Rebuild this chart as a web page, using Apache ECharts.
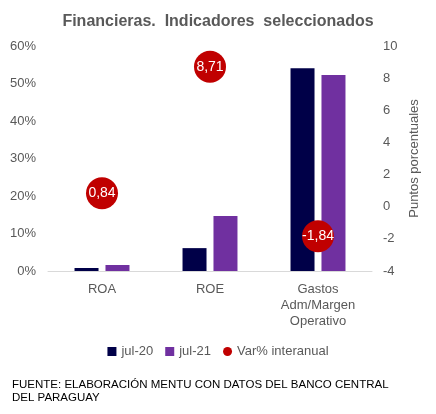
<!DOCTYPE html>
<html><head><meta charset="utf-8">
<script src="https://cdn.jsdelivr.net/npm/echarts@6/dist/echarts.min.js"></script>
<style>html,body{margin:0;padding:0;background:#fff}#c{width:436px;height:414px}</style>
</head><body><div id="c"></div>
<script>
var categories = ['ROA', 'ROE', 'Gastos\nAdm/Margen\nOperativo'];
var jul20 = [0.8, 6.1, 54.1];
var jul21 = [1.6, 14.7, 52.3];
var varInteranual = [0.84, 8.71, -1.84];
var leftTicks = {min: 0, max: 60, interval: 10};
var rightTicks = {min: -4, max: 10, interval: 2};

var chart = echarts.init(document.getElementById('c'));
var txt = '#595959';
var ff = 'Liberation Sans, Arial, sans-serif';
chart.setOption({
  animation: false,
  textStyle: {fontFamily: ff},
  title: {
    text: 'Financieras.  Indicadores  seleccionados',
    left: 'center', top: 9,
    textStyle: {fontSize: 16, fontWeight: 'bold', color: txt, fontFamily: ff}
  },
  grid: {left: 48, right: 64, top: 46, bottom: 143},
  legend: {
    top: 340, left: 'center', itemWidth: 9, itemHeight: 9, itemGap: 12,
    textStyle: {fontSize: 13, color: txt, fontFamily: ff},
    data: [{name: 'jul-20', icon: 'rect'}, {name: 'jul-21', icon: 'rect'}, {name: 'Var% interanual', icon: 'circle'}]
  },
  xAxis: {
    type: 'category', data: categories,
    axisLine: {lineStyle: {color: '#d9d9d9'}},
    axisTick: {show: false},
    axisLabel: {color: txt, fontSize: 13, lineHeight: 16, margin: 10, interval: 0}
  },
  yAxis: [{
    type: 'value', min: leftTicks.min, max: leftTicks.max, interval: leftTicks.interval,
    splitLine: {show: false}, axisLine: {show: false}, axisTick: {show: false},
    axisLabel: {formatter: '{value}%', color: txt, fontSize: 13, margin: 12}
  }, {
    type: 'value', min: rightTicks.min, max: rightTicks.max, interval: rightTicks.interval,
    splitLine: {show: false}, axisLine: {show: false}, axisTick: {show: false},
    axisLabel: {color: txt, fontSize: 13, margin: 11},
    name: 'Puntos porcentuales', nameLocation: 'middle', nameRotate: 90, nameGap: 29,
    nameTextStyle: {color: txt, fontSize: 13}
  }],
  series: [{
    name: 'jul-20', type: 'bar', data: jul20, barWidth: 24, barGap: '29%',
    itemStyle: {color: '#000048'}
  }, {
    name: 'jul-21', type: 'bar', data: jul21, barWidth: 24,
    itemStyle: {color: '#7030A0'}
  }, {
    name: 'Var% interanual', type: 'scatter', yAxisIndex: 1, data: varInteranual,
    symbolSize: 32, itemStyle: {color: '#C00000', opacity: 1}, z: 5,
    label: {show: true, position: 'inside', color: '#fff', fontSize: 14,
      formatter: function (p) { return p.value.toFixed(2).replace('.', ','); }}
  }],
  graphic: [{
    type: 'text', left: 12, top: 378,
    style: {text: 'FUENTE: ELABORACIÓN MENTU CON DATOS DEL BANCO CENTRAL\nDEL PARAGUAY',
      fill: '#000', font: '11.5px Liberation Sans, Arial, sans-serif', lineHeight: 13}
  }]
});
</script></body></html>
